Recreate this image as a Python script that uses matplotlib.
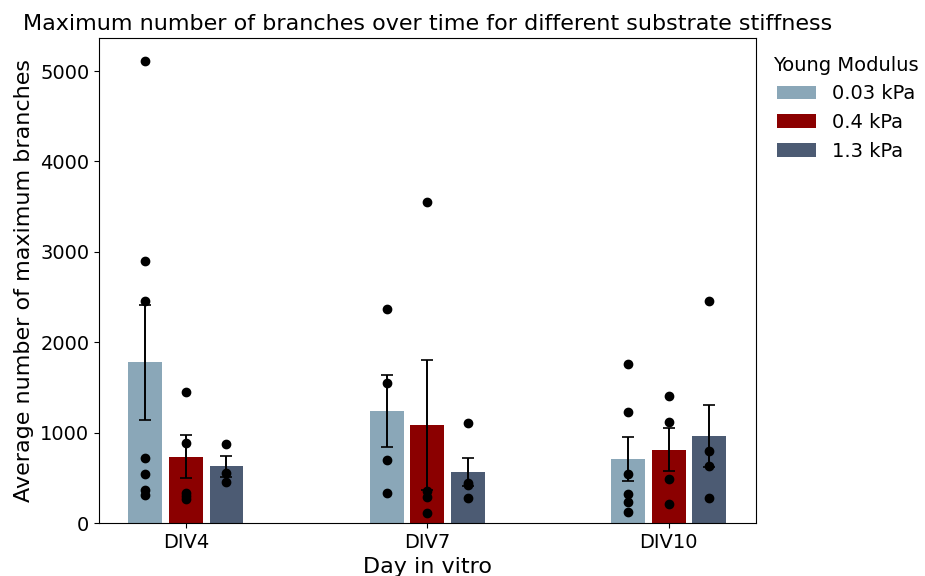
import numpy as np
import matplotlib
matplotlib.use("Agg")
from matplotlib import pyplot as plt

days = ["DIV4", "DIV7", "DIV10"]
moduli = ["0.03 kPa", "0.4 kPa", "1.3 kPa"]
colors = ["#8aa7b8", "#8b0000", "#4c5b73"]

# mean and standard error per (modulus, day)
means = [[1777, 1239, 704],
         [733, 1084, 811],
         [630, 561, 962]]
errs = [[636, 395, 242],
        [238, 716, 240],
        [116, 157, 343]]

# individual samples
points = [
    [[5113, 2898, 2455, 722, 542, 365, 310],
     [2363, 1552, 693, 328],
     [1762, 1231, 542, 324, 229, 122]],
    [[1445, 888, 328, 299, 262],
     [3554, 357, 284, 114],
     [1408, 1117, 490, 213]],
    [[870, 556, 453],
     [1109, 446, 420, 280],
     [2452, 796, 630, 276]],
]

fig, ax = plt.subplots(figsize=(9.25, 5.76), dpi=100)
fig.subplots_adjust(left=0.107, right=0.817, top=0.934, bottom=0.092)

x = np.arange(len(days))
step = 0.168
width = 0.14
for i, mod in enumerate(moduli):
    pos = x + (i - 1) * step
    ax.bar(pos, means[i], width, color=colors[i], label=mod)
    ax.errorbar(pos, means[i], yerr=errs[i], fmt="none", ecolor="black",
                elinewidth=1.4, capsize=4.5, capthick=1.2)
    for j in range(len(days)):
        ax.plot([pos[j]] * len(points[i][j]), points[i][j], "o", color="black",
                markersize=6, linestyle="none")

ax.set_xlim(-0.36, 2.36)
ax.set_ylim(0, 5365)
ax.set_xticks(x)
ax.set_xticklabels(days)
ax.tick_params(labelsize=14)
ax.set_xlabel("Day in vitro", fontsize=16)
ax.set_ylabel("Average number of maximum branches", fontsize=16)
ax.set_title("Maximum number of branches over time for different substrate stiffness",
             fontsize=16)
ax.legend(title="Young Modulus", fontsize=14, title_fontsize=14, frameon=False,
          loc="upper left", bbox_to_anchor=(1.0, 1.0))

plt.savefig("out.png", dpi=100)
